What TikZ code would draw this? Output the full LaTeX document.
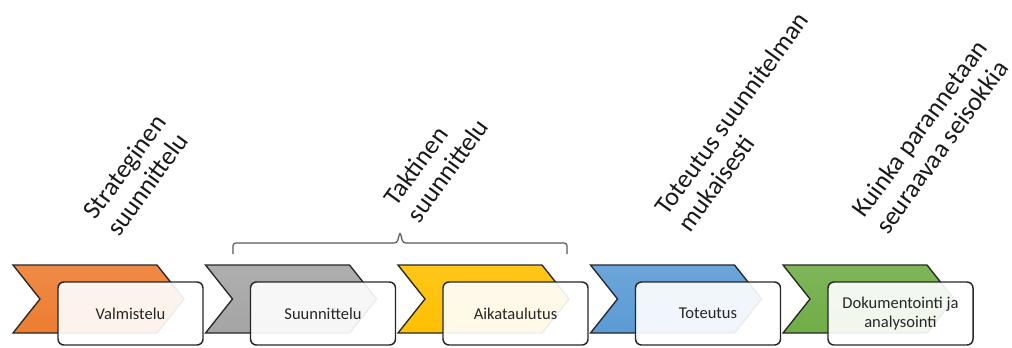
\documentclass[tikz,border=0pt]{standalone}
\usepackage{fontspec}
\setmainfont{Carlito}
\usetikzlibrary{calc,positioning}

\definecolor{stepOrange}{HTML}{ED7D31}
\definecolor{stepGray}{HTML}{A5A5A5}
\definecolor{stepGold}{HTML}{FFC000}
\definecolor{stepBlue}{HTML}{5B9BD5}
\definecolor{stepGreen}{HTML}{70AD47}

\tikzset{
  chevron/.style={draw=black!85, line width=1pt, line join=miter,
    top color=#1!90!white, bottom color=#1},
  phasebox/.style={draw=black!85, line width=1.1pt, rounded corners=4.5pt,
    fill=white, fill opacity=0.91, text opacity=1, text=black!85,
    minimum width=108.75pt, minimum height=47.25pt, inner sep=2pt,
    align=center, font=\fontsize{12.4}{14.5}\selectfont},
  phaselabel/.style={rotate=54, align=left, text=black!90,
    font=\fontsize{19.5}{21.5}\selectfont, inner sep=0pt},
  bracket/.style={draw=black!65, line width=0.9pt, rounded corners=2pt}
}

\begin{document}
\begin{tikzpicture}[x=0.75pt, y=-0.75pt]
	\useasboundingbox (0,0) rectangle (1012,347);

	%% chevrons with the step boxes on top
	\foreach \c/\txt [count=\i] in {stepOrange/Valmistelu, stepGray/Suunnittelu,
	    stepGold/Aikataulutus, stepBlue/Toteutus,
	    stepGreen/{Dokumentointi ja\\analysointi}}
	{
		\pgfmathsetmacro{\xo}{13+192.5*(\i-1)}
		\coordinate (chev\i) at (\xo,265);
		\path[chevron=\c] (chev\i) -- ++(144,0) -- ++(27,34) -- ++(-27,34)
		  -- ++(-144,0) -- ++(27,-34) -- cycle;
		\node[phasebox] (box\i) at (\xo+117.5,313.5) {\txt};
	}

	%% bracket over the tactical part
	\coordinate (braceL) at (233,254);
	\coordinate (braceR) at (567,254);
	\coordinate (braceTip) at (400,232);
	\draw[bracket] (braceL) -- (233,243) -- (397,243) -- (braceTip)
	  -- (403,243) -- (567,243) -- (braceR);

	%% level labels
	\node[phaselabel] (strat) at (136,175) {Strateginen\\suunnittelu};
	\node[phaselabel] (takt) at (436,162) {Taktinen\\suunnittelu};
	\node[phaselabel] (toteu) at (743,122) {Toteutus suunnitelman\\mukaisesti};
	\node[phaselabel] (kuinka) at (931,137) {Kuinka parannetaan\\seuraavaa seisokkia};
\end{tikzpicture}
\end{document}
